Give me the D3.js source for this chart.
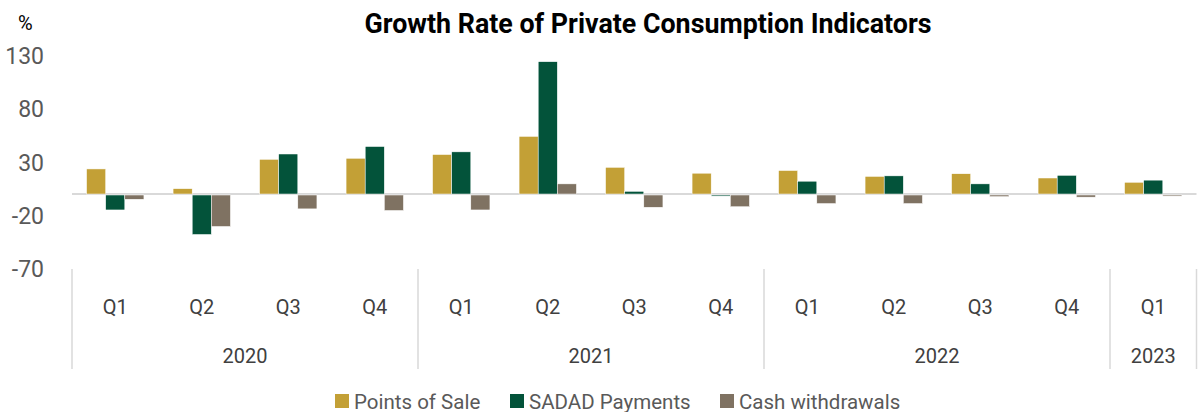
<!DOCTYPE html>
<html lang="en">
  <head>
    <meta charset='UTF-8'>
    <title>Growth Rate of Private Consumption Indicators</title>
    <script src="https://d3js.org/d3.v7.min.js"></script>
    <style>
      body { margin: 0; background: #fff; }
      text { font-family: Roboto, "Liberation Sans", sans-serif; }
    </style>
  </head>

  <body onload='init()'>
    <svg class="main-svg" width="1198" height="412"></svg>
    <script>
    // quarters, years and the three series (%)
    var quarters = ["Q1","Q2","Q3","Q4","Q1","Q2","Q3","Q4","Q1","Q2","Q3","Q4","Q1"];
    var years = ["2020","2020","2020","2020","2021","2021","2021","2021","2022","2022","2022","2022","2023"];
    var seriesNames = ["Points of Sale", "SADAD Payments", "Cash withdrawals"];
    var pointsOfSale = [23.5, 5, 32.5, 33.5, 37, 54, 25, 19.5, 22, 16.5, 19, 15, 11];
    var sadadPayments = [-14, -37, 37.5, 44.5, 39.5, 124, 2.5, -1, 12, 17, 9.5, 17.5, 13];
    var cashWithdrawals = [-4, -29.5, -13, -14.5, -14, 9.5, -11.5, -11, -8, -8, -1.5, -2, -1];
    var yTicks = [-70, -20, 30, 80, 130];
    var colors = ["#c3a036", "#03533a", "#7f7262"];

    var svg;
    function init() {
      svg = d3.select("svg");
      var left = 72, right = 1196.5;
      var idx = d3.range(quarters.length);

      var x = d3.scaleBand().domain(idx).range([left, right])
                .paddingInner(0.337).paddingOuter(0.1685);
      var xs = d3.scaleBand().domain(d3.range(3)).range([0, x.bandwidth()]);
      var y = d3.scaleLinear().domain([-70, 130]).range([268.7, 55.3]);

      var values = [pointsOfSale, sadadPayments, cashWithdrawals];

      // title and unit
      svg.append("text")
        .attr("x", 648).attr("y", 33)
        .attr("text-anchor", "middle")
        .attr("textLength", 567).attr("lengthAdjust", "spacingAndGlyphs")
        .style("font-size", "28px").style("font-weight", "bold").style("fill", "#000")
        .text("Growth Rate of Private Consumption Indicators");

      svg.append("text")
        .attr("x", 18).attr("y", 30)
        .style("font-size", "20px").style("fill", "#000")
        .text("%");

      // y axis labels only (plain hyphen for negatives, as in the original)
      var yAxis = svg.append("g")
        .attr("transform", "translate(44,0)")
        .call(d3.axisLeft(y).tickValues(yTicks).tickSize(0).tickPadding(0)
                .tickFormat(function(d) { return String(d); }));
      yAxis.select(".domain").remove();
      yAxis.selectAll("text")
        .attr("dy", "0.36em")
        .style("font-size", "23px").style("fill", "#595959")
        .style("font-family", "Roboto, sans-serif");

      // zero line
      svg.append("line")
        .attr("x1", left).attr("x2", right)
        .attr("y1", y(0)).attr("y2", y(0))
        .style("stroke", "#d9d9d9").style("stroke-width", 2);

      // bars
      values.forEach(function(vals, s) {
        svg.append("g").selectAll("rect")
          .data(vals)
          .enter()
          .append("rect")
          .attr("x", function(d, i) { return x(i) + xs(s); })
          .attr("width", xs.bandwidth())
          .attr("y", function(d) { return Math.min(y(d), y(0) + (d < 0 ? 1 : 0)); })
          .attr("height", function(d) { return Math.abs(y(d) - y(0)); })
          .style("fill", colors[s])
          .style("stroke", "#fff").style("stroke-width", 0.5);
      });

      // category axis: quarters and years
      var step = x.step();
      svg.append("g").selectAll("text")
        .data(idx)
        .enter()
        .append("text")
        .attr("x", function(i) { return x(i) + x.bandwidth() / 2; })
        .attr("y", 314)
        .attr("text-anchor", "middle")
        .style("font-size", "20px").style("fill", "#404040")
        .text(function(i) { return quarters[i]; });

      var yearGroups = d3.groups(idx, function(i) { return years[i]; });
      svg.append("g").selectAll("text")
        .data(yearGroups)
        .enter()
        .append("text")
        .attr("x", function(g) {
          var first = g[1][0], last = g[1][g[1].length - 1];
          return (x(first) + x(last) + x.bandwidth()) / 2;
        })
        .attr("y", 363)
        .attr("text-anchor", "middle")
        .style("font-size", "20px").style("fill", "#404040")
        .text(function(g) { return g[0]; });

      // separators between years
      var seps = [left];
      yearGroups.forEach(function(g) {
        var last = g[1][g[1].length - 1];
        seps.push(left + (last + 1) * step);
      });
      svg.append("g").selectAll("line")
        .data(seps)
        .enter()
        .append("line")
        .attr("x1", function(d) { return d; }).attr("x2", function(d) { return d; })
        .attr("y1", 269).attr("y2", 369)
        .style("stroke", "#d9d9d9").style("stroke-width", 1.5);

      // legend
      var legendX = [335, 510, 720];
      var legend = svg.append("g").selectAll("g")
        .data(seriesNames)
        .enter()
        .append("g")
        .attr("transform", function(d, i) { return "translate(" + legendX[i] + ",394)"; });
      legend.append("rect")
        .attr("width", 14).attr("height", 14)
        .style("fill", function(d, i) { return colors[i]; });
      legend.append("text")
        .attr("x", 19).attr("y", 14.5)
        .style("font-size", "20.5px").style("fill", "#595959")
        .text(function(d) { return d; });
    }
    </script>
  </body>
</html>
